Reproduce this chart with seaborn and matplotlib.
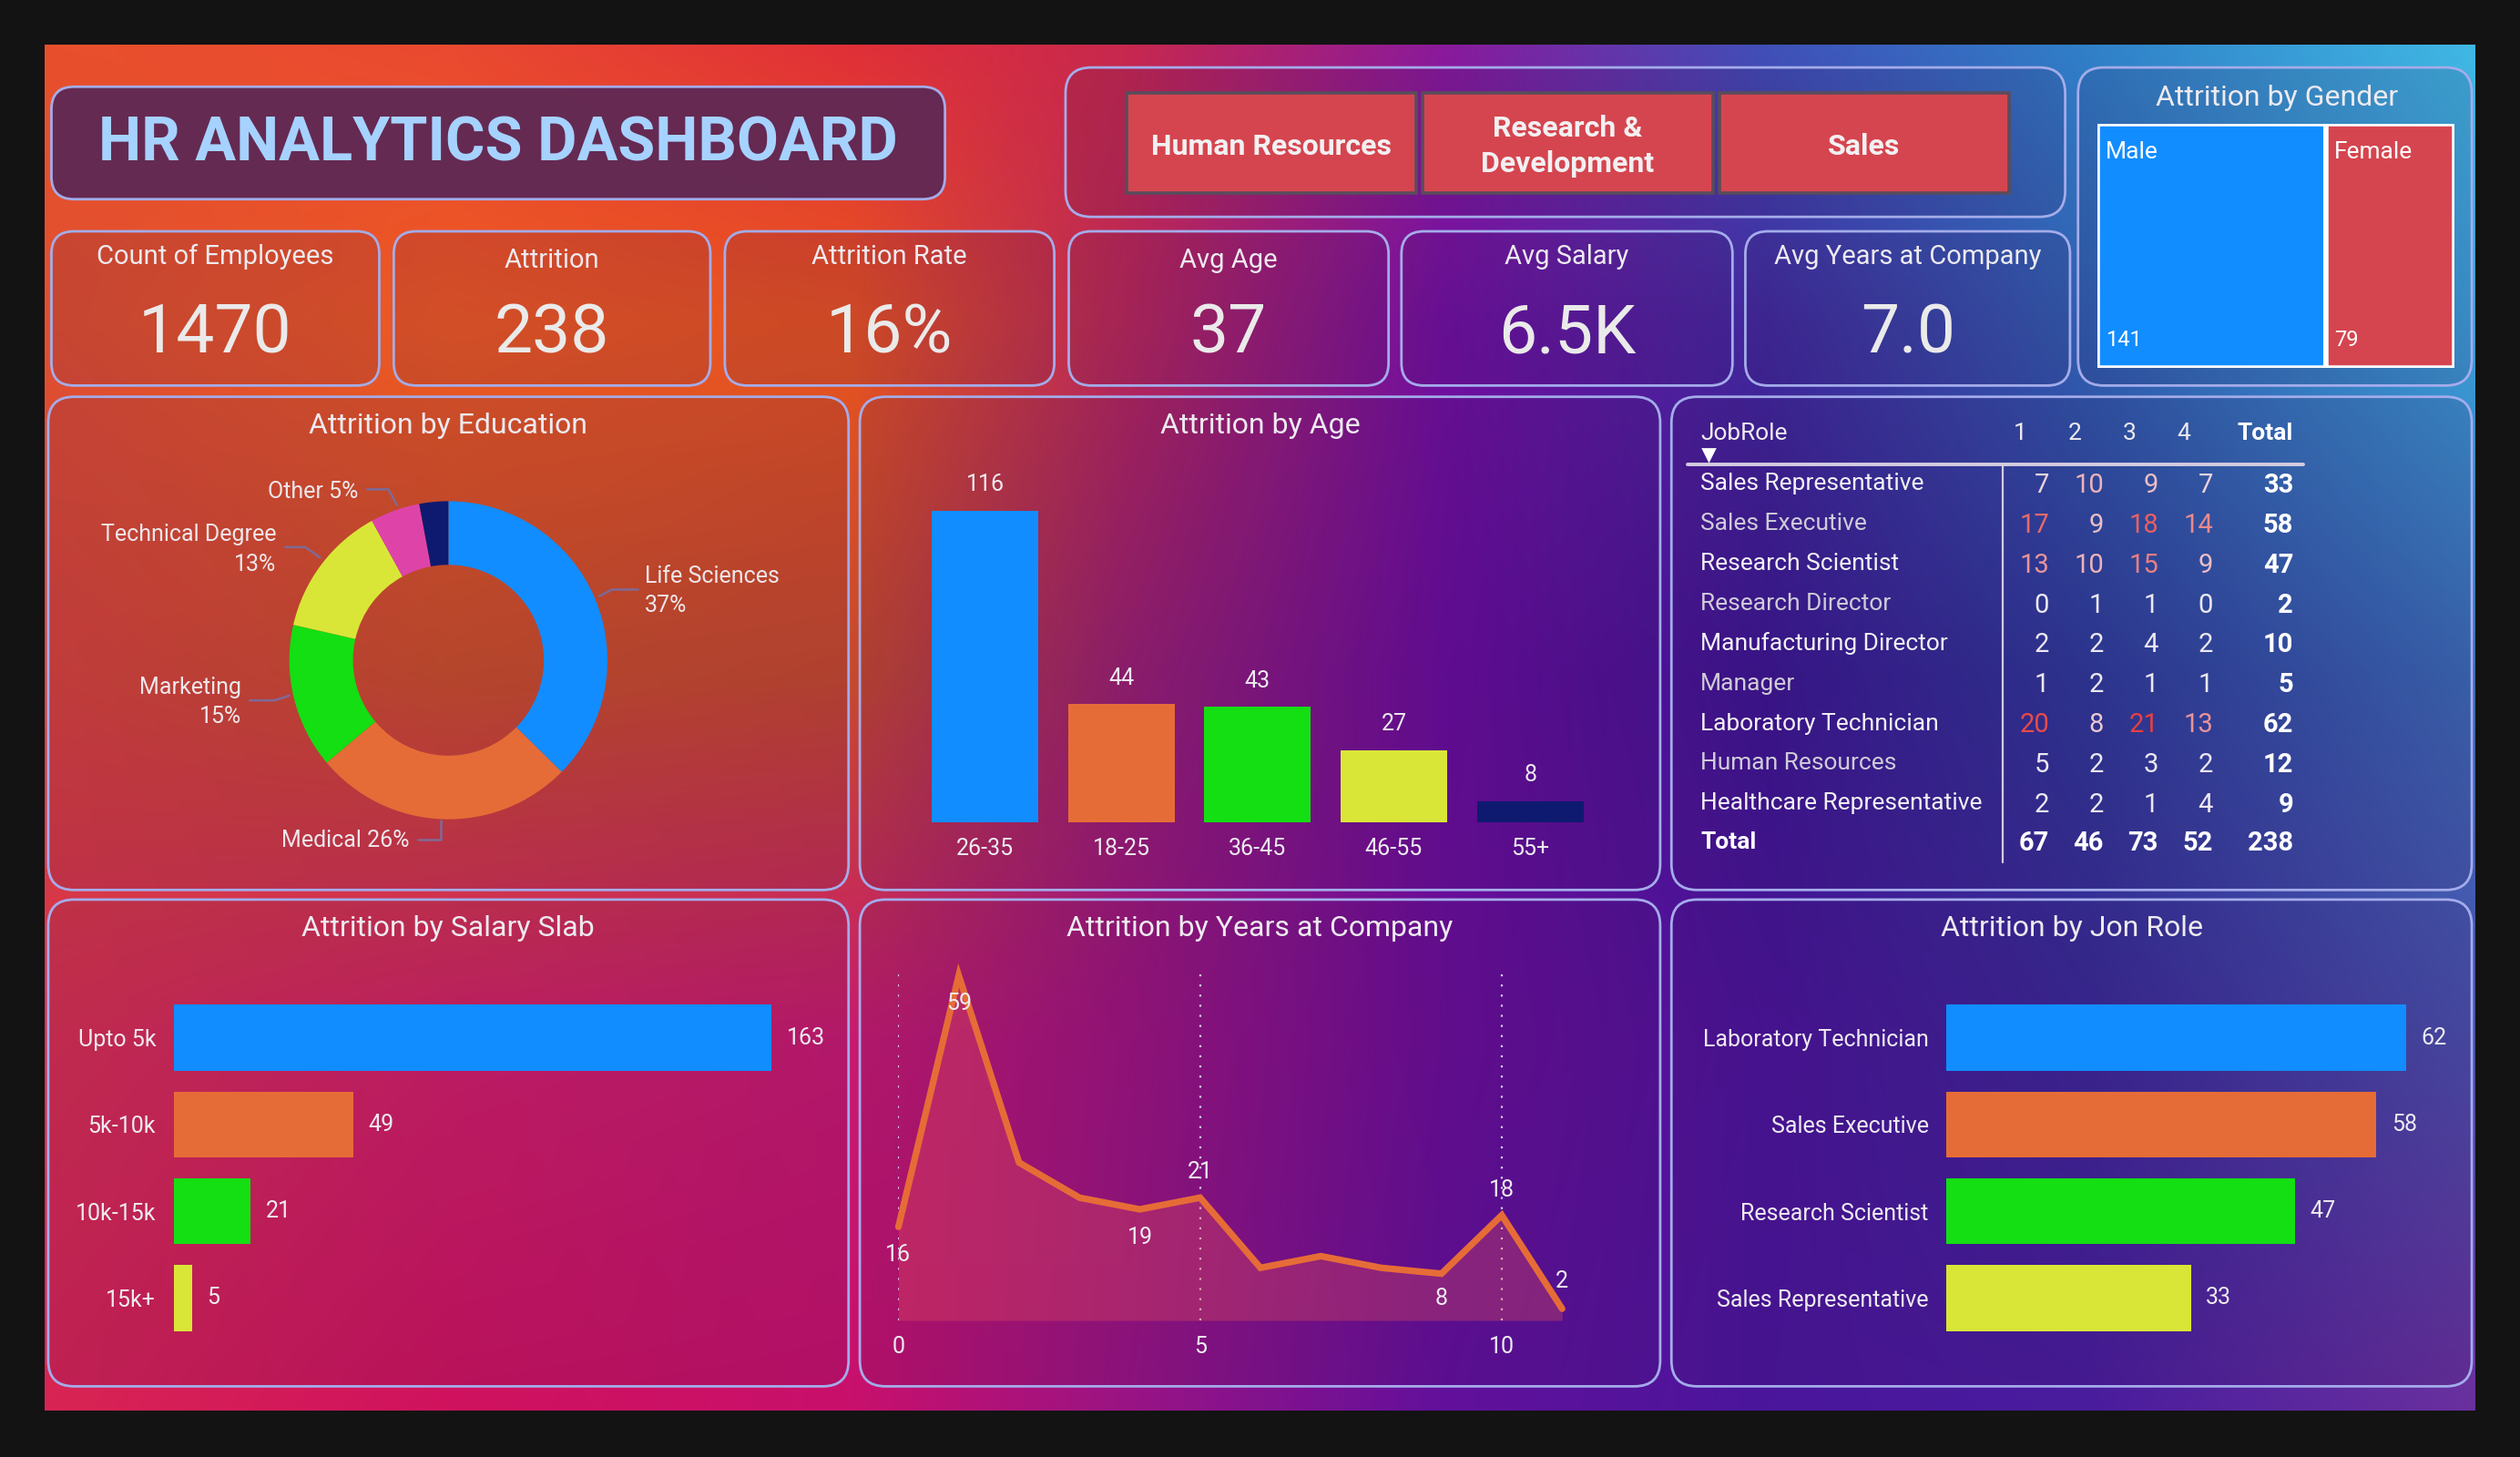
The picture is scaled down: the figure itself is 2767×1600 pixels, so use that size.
import numpy as np
import pandas as pd
import matplotlib
matplotlib.use("Agg")
import matplotlib.pyplot as plt
import seaborn as sns
from matplotlib.patches import FancyBboxPatch, Rectangle
from matplotlib.colors import to_rgb

# ---------------- data ----------------
dashboard_title = "HR ANALYTICS DASHBOARD"
departments = ["Human Resources", "Research &\nDevelopment", "Sales"]
kpi_titles = ["Count of Employees", "Attrition", "Attrition Rate", "Avg Age",
              "Avg Salary", "Avg Years at Company"]
kpi_values = ["1470", "238", "16%", "37", "6.5K", "7.0"]

gender_labels = ["Male", "Female"]
gender_values = [141, 79]

edu_labels = ["Life Sciences", "Medical", "Marketing", "Technical Degree", "Other", "Human Resources"]
edu_values = [89, 63, 35, 32, 12, 7]

age_groups = ["26-35", "18-25", "36-45", "46-55", "55+"]
age_values = [116, 44, 43, 27, 8]

salary_slabs = ["Upto 5k", "5k-10k", "10k-15k", "15k+"]
salary_values = [163, 49, 21, 5]

years = [0, 1, 2, 3, 4, 5, 6, 7, 8, 9, 10, 11]
years_values = [16, 59, 27, 21, 19, 21, 9, 11, 9, 8, 18, 2]
years_ticks = [0, 5, 10]

job_roles_top = ["Laboratory Technician", "Sales Executive", "Research Scientist", "Sales Representative"]
job_top_values = [62, 58, 47, 33]

table_roles = ["Sales Representative", "Sales Executive", "Research Scientist", "Research Director",
               "Manufacturing Director", "Manager", "Laboratory Technician", "Human Resources",
               "Healthcare Representative"]
table_levels = ["1", "2", "3", "4"]
table_values = [[7, 10, 9, 7], [17, 9, 18, 14], [13, 10, 15, 9], [0, 1, 1, 0], [2, 2, 4, 2],
                [1, 2, 1, 1], [20, 8, 21, 13], [5, 2, 3, 2], [2, 2, 1, 4]]

# ---------------- style ----------------
sns.set_theme(style="white")
plt.rcParams['font.family'] = ['Roboto', 'DejaVu Sans']

W, H = 1568, 907
fig = plt.figure(figsize=(13.835, 8.0), dpi=200)
fig.patch.set_facecolor('#131313')

BLUE, ORANGE, GREEN, YELLOW, NAVY, PINK = '#118DFF', '#E66C37', '#13DF13', '#D9E637', '#0E1A70', '#DE44A8'
TXT = '#EDEAF0'
BORDER = '#A4ACEA'

bg = fig.add_axes([0, 0, 1, 1])
bg.set_xlim(0, W)
bg.set_ylim(H, 0)
bg.axis('off')

# gradient background
gx = [28, 280, 530, 700, 900, 1100, 1300, 1540]
gy = [28, 200, 420, 650, 878]
grid = [
    ['#E8502C', '#EA4A30', '#E03038', '#C8284E', '#8A1A9C', '#4050B8', '#3080C8', '#40B8E4'],
    ['#E05030', '#EE5A22', '#E85420', '#B82858', '#7010A0', '#402A9C', '#3060B0', '#3AA0D8'],
    ['#D8443A', '#CC5028', '#C64A2C', '#9A2070', '#680C9C', '#3A1690', '#2C3A98', '#3A6CB8'],
    ['#D83050', '#D42068', '#C81A70', '#A0147E', '#6A0E98', '#4A149A', '#3A2896', '#4A50AC'],
    ['#D82454', '#D0125E', '#C8106C', '#9A1484', '#62109C', '#4A169C', '#4A1C9E', '#6A309E'],
]
garr = np.array([[to_rgb(c) for c in row] for row in grid])
nx, ny = 600, 340
xs = np.linspace(28, 1540, nx)
ys = np.linspace(28, 878, ny)
tmp = np.zeros((len(gy), nx, 3))
for i in range(len(gy)):
    for ch in range(3):
        tmp[i, :, ch] = np.interp(xs, gx, garr[i, :, ch])
img = np.zeros((ny, nx, 3))
for j in range(nx):
    for ch in range(3):
        img[:, j, ch] = np.interp(ys, gy, tmp[:, j, ch])
bg.imshow(img, extent=(28, 1540, 878, 28), aspect='auto', interpolation='bilinear', zorder=0)
bg.set_xlim(0, W)
bg.set_ylim(H, 0)


def panel(x0, y0, x1, y1, fc=(0.18, 0.05, 0.28, 0.14), ec=BORDER, r=14, lw=1.0, z=1):
    p = FancyBboxPatch((x0 + r, y0 + r), (x1 - x0) - 2 * r, (y1 - y0) - 2 * r,
                       boxstyle=f"round,pad={r}", fc=fc, ec=ec, lw=lw, zorder=z)
    bg.add_patch(p)


def rect(x0, y0, x1, y1):
    return [x0 / W, 1 - y1 / H, (x1 - x0) / W, (y1 - y0) / H]


def clean(ax):
    ax.set_facecolor('none')
    for s in ax.spines.values():
        s.set_visible(False)
    ax.set_xlabel('')
    ax.set_ylabel('')


# ---------------- title & slicer ----------------
panel(32, 54, 588, 124, fc=(0.38, 0.16, 0.33, 0.97), r=14)
bg.text(310, 90, dashboard_title, ha='center', va='center', fontsize=24, fontweight='bold',
        color='#A6D2FF', zorder=5)

panel(663, 42, 1285, 135, r=16)
btn_x = [(701, 881), (885, 1066), (1070, 1250)]
for (bx0, bx1), name in zip(btn_x, departments):
    bg.add_patch(Rectangle((bx0, 58), bx1 - bx0, 62, fc='#D5454F', ec='#5A4C5C', lw=1.3, zorder=3))
    bg.text((bx0 + bx1) / 2, 91, name, ha='center', va='center', fontsize=11.5, fontweight='bold',
            color='#F2F0F2', zorder=5, linespacing=1.35)

# ---------------- KPI cards ----------------
kpi_x = [(32, 236), (245, 442), (451, 656), (665, 864), (872, 1078), (1086, 1288)]
kpi_title_y = [160, 162, 160, 162, 160, 160]
for (kx0, kx1), t, v, ty in zip(kpi_x, kpi_titles, kpi_values, kpi_title_y):
    panel(kx0, 144, kx1, 240, r=14)
    cx = (kx0 + kx1) / 2
    bg.text(cx, ty, t, ha='center', va='center', fontsize=10.5, color=TXT, zorder=5)
    bg.text(cx, 208, v, ha='center', va='center', fontsize=27, color='#EAEAEA', zorder=5)

# ---------------- gender treemap ----------------
panel(1293, 42, 1538, 240, r=16)
bg.text(1417, 61, "Attrition by Gender", ha='center', va='center', fontsize=11.5, color=TXT, zorder=5)
axg = fig.add_axes(rect(1305, 77, 1527, 229))
clean(axg)
lefts = np.concatenate([[0], np.cumsum(gender_values)[:-1]])
for lft, val, col in zip(lefts, gender_values, [BLUE, '#D5454F']):
    axg.barh(0, val, left=lft, height=1.0, color=col, edgecolor='white', linewidth=2.0)
axg.set_xlim(0, sum(gender_values))
axg.set_ylim(-0.5, 0.5)
axg.set_xticks([]); axg.set_yticks([])
for lft, val, lab in zip(lefts, gender_values, gender_labels):
    axg.text(lft + 5, 0.43, lab, ha='left', va='top', fontsize=9.5, color='white')
    axg.text(lft + 5, -0.43, str(val), ha='left', va='bottom', fontsize=8.5, color='white')

# ---------------- row 2/3 panels ----------------
for (px0, px1) in [(30, 528), (535, 1033), (1040, 1538)]:
    panel(px0, 247, px1, 554, r=16)
    panel(px0, 560, px1, 863, r=16)

for txt, x, y in [("Attrition by Education", 279, 265), ("Attrition by Age", 784, 265),
                  ("Attrition by Salary Slab", 279, 578), ("Attrition by Years at Company", 784, 578),
                  ("Attrition by Jon Role", 1289, 578)]:
    bg.text(x, y, txt, ha='center', va='center', fontsize=11.5, color=TXT, zorder=5)

# ---------------- donut ----------------
axd = fig.add_axes(rect(180, 312, 378, 510))
axd.pie(edu_values, colors=[BLUE, ORANGE, GREEN, YELLOW, PINK, NAVY], startangle=90,
        counterclock=False, radius=1.0, wedgeprops=dict(width=0.4, edgecolor='none', linewidth=0))
axd.set_xlim(-1, 1); axd.set_ylim(-1, 1)
pcts = [100 * v / sum(edu_values) for v in edu_values]
LEAD = '#7E6A96'
lab_specs = [
    (0, "{n}\n{p:.0f}%", 401, 368, 'left', [(373, 371), (381, 367), (397, 367)]),
    (1, "{n} {p:.0f}%", 255, 523.5, 'right', [(274.5, 511), (274.5, 522.5), (260, 522.5)]),
    (2, "{n}\n{p:.0f}%", 150, 437, 'right', [(180, 433), (171, 436), (155.5, 436)]),
    (3, "{n}\n{p:.0f}%", 172, 342, 'right', [(199, 347), (190, 340.6), (177.5, 340.6)]),
    (4, "{n} {p:.0f}%", 223, 306, 'right', [(247, 314.5), (241.7, 304.6), (228.5, 304.6)]),
]
for idx, fmt, tx, ty, ha, pts in lab_specs:
    bg.text(tx, ty, fmt.format(n=edu_labels[idx], p=pcts[idx]), ha=ha, va='center', fontsize=9,
            color='#EEE6EA', zorder=5, linespacing=1.45)
    bg.plot([p[0] for p in pts], [p[1] for p in pts], color=LEAD, lw=0.9, zorder=4)

# ---------------- age bars ----------------
axa = fig.add_axes(rect(570.5, 294.6, 994.5, 512))
clean(axa)
sns.barplot(x=age_groups, y=age_values, hue=age_groups, palette=[BLUE, ORANGE, GREEN, YELLOW, NAVY],
            legend=False, width=0.78, saturation=1, linewidth=0, edgecolor='none', ax=axa)
for c in axa.containers:
    axa.bar_label(c, padding=6, fontsize=9, color=TXT)
axa.set_ylim(0, 130)
axa.set_xlim(-0.5, 4.5)
axa.set_yticks([])
axa.tick_params(axis='x', length=0, pad=6, labelsize=9, labelcolor=TXT)
axa.set_xlabel(''); axa.set_ylabel('')

# ---------------- salary bars ----------------
axs = fig.add_axes(rect(108, 619, 108 + 2.282 * 180, 835))
clean(axs)
sns.barplot(x=salary_values, y=salary_slabs, hue=salary_slabs, palette=[BLUE, ORANGE, GREEN, YELLOW],
            legend=False, orient='h', width=0.76, saturation=1, linewidth=0, edgecolor='none', ax=axs)
for c in axs.containers:
    axs.bar_label(c, padding=6, fontsize=9, color=TXT)
axs.set_xlim(0, 180)
axs.set_ylim(3.5, -0.5)
axs.set_xticks([])
axs.tick_params(axis='y', length=0, pad=7, labelsize=9, labelcolor=TXT)
axs.set_xlabel(''); axs.set_ylabel('')

# ---------------- job role bars ----------------
axj = fig.add_axes(rect(1211, 619, 1211 + 4.613 * 70, 835))
clean(axj)
sns.barplot(x=job_top_values, y=job_roles_top, hue=job_roles_top, palette=[BLUE, ORANGE, GREEN, YELLOW],
            legend=False, orient='h', width=0.76, saturation=1, linewidth=0, edgecolor='none', ax=axj)
for c in axj.containers:
    axj.bar_label(c, padding=6, fontsize=9, color=TXT)
axj.set_xlim(0, 70)
axj.set_ylim(3.5, -0.5)
axj.set_xticks([])
axj.tick_params(axis='y', length=0, pad=7, labelsize=9, labelcolor=TXT)
axj.set_xlabel(''); axj.set_ylabel('')

# ---------------- years line ----------------
axl = fig.add_axes(rect(559, 596.3, 972, 822))
clean(axl)
axl.fill_between(years, years_values, 0, color='#E8505A', alpha=0.32, lw=0)
sns.lineplot(x=years, y=years_values, color=ORANGE, lw=2.6, ax=axl)
for ln in axl.lines:
    ln.set_clip_on(False)
    ln.set_solid_capstyle('round')
    ln.set_solid_joinstyle('miter')
axl.set_xlim(0, 11)
axl.set_ylim(0, 62)
axl.set_yticks([])
axl.set_xticks(years_ticks)
axl.set_xticklabels([str(t) for t in years_ticks])
axl.tick_params(axis='x', length=0, pad=6, labelsize=9, labelcolor=TXT)
for t in years_ticks:
    axl.axvline(t, ymin=0, ymax=(822 - 603) / (822 - 596.3), color='#D8CCE8', lw=0.8,
                ls=(0, (1, 4)), zorder=0)
label_offsets = {0: -11, 1: -11, 4: -11, 5: 10, 9: -10, 10: 10, 11: 11}
for i, dy in label_offsets.items():
    axl.annotate(str(years_values[i]), (years[i], years_values[i]), xytext=(0, dy),
                 textcoords='offset points', ha='center', va='center', fontsize=9, color=TXT,
                 annotation_clip=False)
axl.set_xlabel(''); axl.set_ylabel('')

# ---------------- matrix table ----------------
col_right = [1275, 1309, 1343, 1377]
col_hdr = [1257, 1291, 1325, 1359]
tot_right = 1427
row_y0, row_dy = 301, 24.9
bg.text(1058, 270, "JobRole", ha='left', va='center', fontsize=9.5, color=TXT, zorder=5)
bg.plot([1063], [283], marker='v', ms=4, color='white', zorder=5)
for lvl, x in zip(table_levels, col_hdr):
    bg.text(x, 270, lvl, ha='center', va='center', fontsize=9.5, color=TXT, zorder=5)
bg.text(tot_right, 270, "Total", ha='right', va='center', fontsize=9.5, fontweight='bold', color='white', zorder=5)
bg.plot([1050, 1433], [289, 289], color='#D4CCE0', lw=1.4, zorder=5)
bg.plot([1246, 1246], [289, 537], color='#D4CCE0', lw=0.8, zorder=5)

white_rgb = np.array(to_rgb('#ECE8F2'))
red_rgb = np.array(to_rgb('#E8403F'))


def cell_color(v):
    t = np.clip((v - 5) / (21 - 5), 0, 1)
    return tuple(white_rgb + (red_rgb - white_rgb) * t)


for r, (role, vals) in enumerate(zip(table_roles, table_values)):
    y = row_y0 + r * row_dy
    rc = '#F2F0F4' if r % 2 == 0 else '#CFCBD8'
    bg.text(1058, y, role, ha='left', va='center', fontsize=9.5, color=rc, zorder=5)
    for v, x in zip(vals, col_right):
        bg.text(x, y + 1, str(v), ha='right', va='center', fontsize=10.5, color=cell_color(v), zorder=5)
    bg.text(tot_right, y + 1, str(sum(vals)), ha='right', va='center', fontsize=10.5,
            fontweight='bold', color='white', zorder=5)
y = row_y0 + len(table_roles) * row_dy - 1
bg.text(1058, y, "Total", ha='left', va='center', fontsize=9.5, fontweight='bold', color='white', zorder=5)
col_tot = [sum(row[k] for row in table_values) for k in range(len(table_levels))]
for v, x in zip(col_tot, col_right):
    bg.text(x, y + 1, str(v), ha='right', va='center', fontsize=10.5, fontweight='bold', color='white', zorder=5)
bg.text(tot_right, y + 1, str(sum(col_tot)), ha='right', va='center', fontsize=10.5,
        fontweight='bold', color='white', zorder=5)

fig.savefig("out.png", dpi=200, facecolor=fig.get_facecolor())
